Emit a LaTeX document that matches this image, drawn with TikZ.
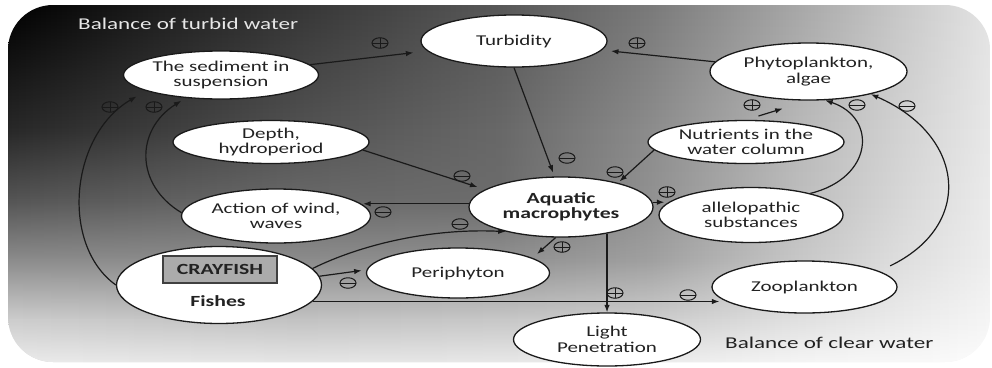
\documentclass[tikz,border=0pt]{standalone}
\usepackage{fontspec}
\setmainfont{Carlito}[FakeStretch=1.4]
\usetikzlibrary{shapes.geometric,arrows.meta,fadings,calc}
\definecolor{linec}{HTML}{1A1A1A}
\definecolor{textc}{HTML}{222222}
\definecolor{titlelight}{HTML}{E6E6E6}
\definecolor{crayfill}{HTML}{ABABAB}
\definecolor{crayline}{HTML}{404040}
\tikzfading[name=fadeS, top color=transparent!100, bottom color=transparent!0]
\newcommand\bgrowshade[9]{\pgfdeclarehorizontalshading{#1}{100bp}{color(0bp)=(black!#2); color(25bp)=(black!#2); color(32.23bp)=(black!#3); color(39.87bp)=(black!#4); color(50.05bp)=(black!#5); color(57.69bp)=(black!#6); color(65.33bp)=(black!#7); color(70.42bp)=(black!#8); color(75bp)=(black!#9); color(100bp)=(black!#9)}}
\bgrowshade{rowA}{100}{89}{78.8}{65.5}{52.2}{34.1}{21.6}{10.6}
\bgrowshade{rowB}{84.3}{76.5}{67.8}{59.2}{45.1}{27.5}{17.6}{9}
\bgrowshade{rowC}{66.7}{62.7}{58.8}{57.6}{43.1}{25.5}{15.7}{7.8}
\bgrowshade{rowD}{45.1}{45.1}{45.1}{43.1}{37.3}{21.6}{12.9}{6.7}
\bgrowshade{rowE}{19.6}{21.6}{23.5}{21.6}{19.6}{11.8}{7.8}{3.9}
\bgrowshade{rowF}{7.8}{9}{9.8}{9}{7.5}{3.9}{2.7}{1.2}
\begin{document}
\begin{tikzpicture}[x=1pt,y=-1pt,
  box/.style={ellipse, draw=linec, fill=white, line width=1.3pt, inner sep=0pt, text=textc, align=center, font=\fontsize{15}{15.5}\selectfont},
  conn/.style={draw=linec, line width=1.2pt, -{Latex[length=7.5pt,width=5.5pt]}},
  sgn/.style={ellipse, draw=linec, line width=1pt, minimum width=16pt, minimum height=10.5pt, inner sep=0pt},
  sgnplus/.style={sgn, path picture={\draw[linec,line width=1pt] (path picture bounding box.west) -- (path picture bounding box.east) (path picture bounding box.north) -- (path picture bounding box.south);}},
  sgnminus/.style={sgn, path picture={\draw[linec,line width=1pt] (path picture bounding box.west) -- (path picture bounding box.east);}},
  boldtext/.style={font=\bfseries\fontsize{15.5}{15.5}\selectfont, text=textc}
]
\useasboundingbox (0,0) rectangle (992,367);
% background
\begin{scope}
\clip[rounded corners=45pt] (8,5) rectangle (990,362);
\shade[shading=rowA] (8,4.5) rectangle (990,130.5);
\shade[shading=rowB, path fading=fadeS] (8,5) rectangle (990,130);
\shade[shading=rowB] (8,129.5) rectangle (990,200.5);
\shade[shading=rowC, path fading=fadeS] (8,130) rectangle (990,200);
\shade[shading=rowC] (8,199.5) rectangle (990,260.5);
\shade[shading=rowD, path fading=fadeS] (8,200) rectangle (990,260);
\shade[shading=rowD] (8,259.5) rectangle (990,320.5);
\shade[shading=rowE, path fading=fadeS] (8,260) rectangle (990,320);
\shade[shading=rowE] (8,319.5) rectangle (990,362.5);
\shade[shading=rowF, path fading=fadeS] (8,320) rectangle (990,362);
\end{scope}
% titles
\node[anchor=west, inner sep=0pt, text=titlelight, font=\fontsize{16.5}{18}\selectfont] (t1) at (78,24) {Balance of turbid water};
\node[anchor=west, inner sep=0pt, text=textc, font=\fontsize{16.5}{18}\selectfont] (t2) at (725,343) {Balance of clear water};
% nodes
\node[box, minimum width=186pt, minimum height=52pt] (turb) at (514,41) {Turbidity};
\node[box, minimum width=195pt, minimum height=48pt] (sed) at (221,75) {The sediment in\\suspension};
\node[box, minimum width=197pt, minimum height=57pt] (phy) at (808.5,71.5) {Phytoplankton,\\algae};
\node[box, minimum width=196pt, minimum height=43pt] (depth) at (271,142) {Depth,\\hydroperiod};
\node[box, minimum width=196pt, minimum height=43pt] (nut) at (746,142) {Nutrients in the\\water column};
\node[box, minimum width=184pt, minimum height=60pt, boldtext] (aq) at (561,207) {Aquatic\\macrophytes};
\node[box, minimum width=184pt, minimum height=55pt] (allel) at (751,215) {allelopathic\\substances};
\node[box, minimum width=189pt, minimum height=54pt] (act) at (276,216) {Action of wind,\\waves};
\node[box, minimum width=205pt, minimum height=77pt] (fish) at (219,285) {};
\node[draw=crayline, fill=crayfill, line width=1.6pt, minimum width=114pt, minimum height=27pt, inner sep=0pt, boldtext] (cray) at (220,269.5) {CRAYFISH};
\node[boldtext, inner sep=0pt] (fishes) at (218,301) {Fishes};
\node[box, minimum width=183pt, minimum height=50pt] (peri) at (458,273) {Periphyton};
\node[box, minimum width=185pt, minimum height=52pt] (zoo) at (804.5,287) {Zooplankton};
\node[box, minimum width=187pt, minimum height=53pt] (light) at (607,339.5) {Light\\Penetration};
\coordinate (peritip) at (537,254);
% connectors
\draw[conn, shorten >=14pt] (sed) -- (turb);
\draw[conn, shorten >=9pt] (phy) -- (turb);
\draw[conn, shorten >=4pt] (turb.south) -- (aq.102);
\draw[conn, shorten >=2pt] (nut.185) -- (aq.23);
\draw[conn, shorten <=13pt, shorten >=27pt] (nut.north) -- (phy.south);
\draw[conn] (allel.20) .. controls (873,178) and (878,118) .. (phy.-60);
\draw[conn, shorten <=12pt] (zoo.12) .. controls (975,225) and (965,135) .. (phy.-20);
\draw[conn, shorten >=8pt] (depth.-5) -- (aq.167);
\draw[conn] (aq.178) -- ($(aq.178 -| act.east)+(-8,0)$);
\draw[conn] (aq.3) -- ($(aq.3 -| allel.west)+(6,0)$);
\draw[conn] (aq.-100) -- (peritip);
\draw[conn, shorten <=-4pt] (light.north |- aq.south) -- (light.north);
\draw[conn, shorten >=5pt] (fish.5) -- (peri.178);
\draw[conn] (fish.10) .. controls (360,245) and (430,228) .. (aq.-156);
\draw[conn] (fish.-10) -- ($(fish.-10 -| zoo.west)+(8,0)$);
\draw[conn, shorten >=11pt] (fish.180) .. controls (60,245) and (70,135) .. (sed.192);
\draw[conn, shorten >=5pt] (act.178) .. controls (135,185) and (135,130) .. (sed.213);
% signs
\node[sgnplus] (s1) at (380,43) {};
\node[sgnplus] (s2) at (637,43) {};
\node[sgnminus] (s3) at (567,158) {};
\node[sgnminus] (s4) at (615,172) {};
\node[sgnplus] (s5) at (752,105) {};
\node[sgnminus] (s6) at (857,105) {};
\node[sgnminus] (s7) at (907,106) {};
\node[sgnminus] (s8) at (462,176) {};
\node[sgnminus] (s9) at (383,212) {};
\node[sgnplus] (s10) at (667,192) {};
\node[sgnplus] (s11) at (562,247) {};
\node[sgnplus] (s12) at (615,293) {};
\node[sgnminus] (s13) at (348,283) {};
\node[sgnminus] (s14) at (460,224) {};
\node[sgnminus] (s15) at (688,295) {};
\node[sgnplus] (s16) at (110,107) {};
\node[sgnplus] (s17) at (154,107) {};
\end{tikzpicture}
\end{document}
